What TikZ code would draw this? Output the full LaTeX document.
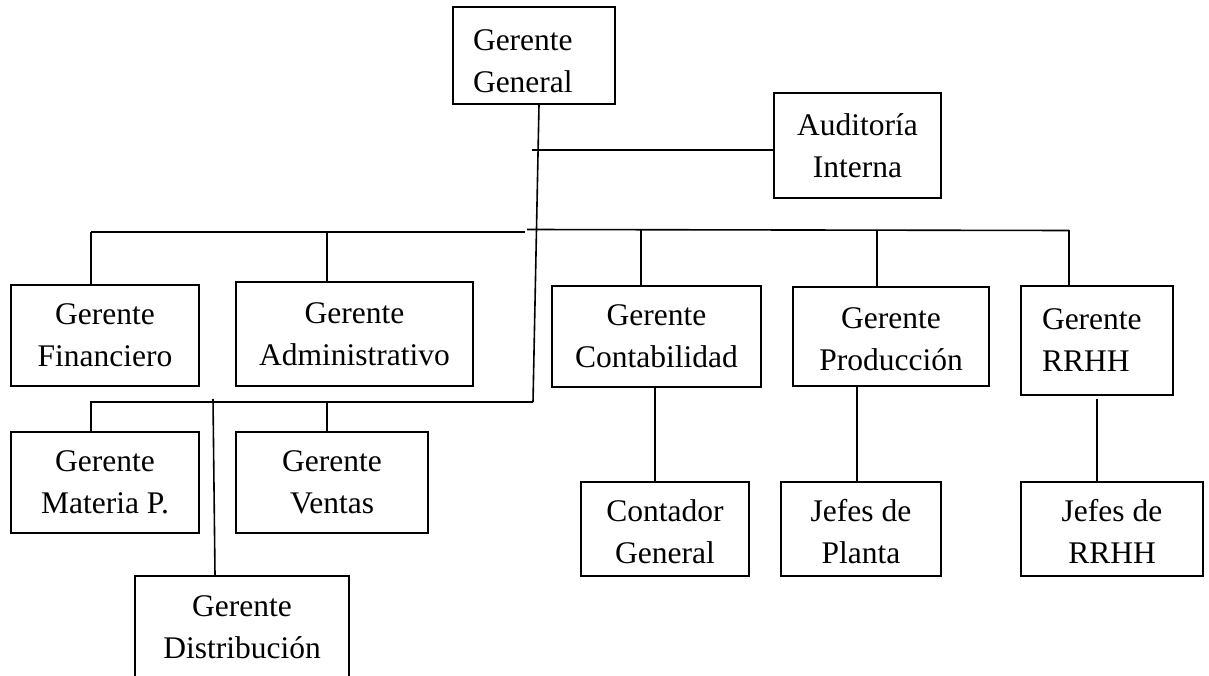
\documentclass[tikz,border=0pt]{standalone}
\usepackage{fontspec}
\setmainfont{Liberation Serif}
% invisible strut that lowers a box's text a little
\newcommand\lowerby[1]{\rule{0pt}{#1}}
\begin{document}
\begin{tikzpicture}[x=1pt,y=-1pt,
  box/.style={draw, line width=1.6pt, inner sep=0pt, align=center,
    font=\fontsize{31.5}{42}\selectfont},
  link/.style={line width=1.6pt}]
\useasboundingbox (0,0) rectangle (1209,676);
\clip (0,0) rectangle (1209,676);

% top of the chart
\node[box, minimum width=162pt, minimum height=97pt, text width=122pt,
  align=left, inner xsep=20pt] (gg) at (534,55.5) {\lowerby{33pt}Gerente\\General};
\node[box, minimum width=167pt, minimum height=105pt] (aud) at (857.5,145.5) {Auditoría\\Interna};

% first row of managers
\node[box, minimum width=188pt, minimum height=101pt] (fin) at (105,335.5) {Gerente\\Financiero};
\node[box, minimum width=237pt, minimum height=104pt] (adm) at (354.5,334) {Gerente\\Administrativo};
\node[box, minimum width=209pt, minimum height=101pt] (con) at (656.5,336.5) {Gerente\\Contabilidad};
\node[box, minimum width=196pt, minimum height=99pt] (pro) at (891,336.5) {\lowerby{26pt}Gerente\\Producción};
\node[box, minimum width=152pt, minimum height=109pt, text width=110pt,
  align=left, inner xsep=21pt] (rrhh) at (1097,340.5) {Gerente\\RRHH};

% second row
\node[box, minimum width=188pt, minimum height=101pt] (mat) at (105,482.5) {Gerente\\Materia P.};
\node[box, minimum width=192pt, minimum height=101pt] (ven) at (332,482.5) {Gerente\\Ventas};
\node[box, minimum width=168pt, minimum height=94pt] (ctr) at (665,529) {\lowerby{27pt}Contador\\General};
\node[box, minimum width=160pt, minimum height=94pt] (jpl) at (861,529) {\lowerby{27pt}Jefes de\\Planta};
\node[box, minimum width=182pt, minimum height=94pt] (jrh) at (1112,529) {\lowerby{26pt}Jefes de\\RRHH};
\node[box, minimum width=214pt, minimum height=102pt] (dis) at (242,627) {Gerente\\Distribución};

% junction points of the lines
\coordinate (trunk) at (533,402);
\coordinate (audj) at (532,150);
\coordinate (busl) at (91,232);
\coordinate (busm) at (525,232);
\coordinate (busn) at (527,229.5);
\coordinate (busr) at (1069,230.5);
\coordinate (lowl) at (91,402);
\coordinate (admj) at (327,232);
\coordinate (conj) at (641,230);
\coordinate (proj) at (877,230);
\coordinate (venj) at (327,402);
\coordinate (disj) at (213,399);
\coordinate (ctrj) at (655,387);
\coordinate (jplj) at (857,386);
\coordinate (jrhj) at (1097,399);

% main trunk and staff link
\draw[link] ([xshift=5pt]gg.south) -- (trunk);
\draw[link] (audj) -- (audj -| aud.west);

% upper bus and its drops
\draw[link] (busl) -- (busm);
\draw[link] (busn) -- (busr);
\draw[link] (busl) -- (busl |- fin.north);
\draw[link] (admj) -- (admj |- adm.north);
\draw[link] (conj) -- (conj |- con.north);
\draw[link] (proj) -- (proj |- pro.north);
\draw[link] (busr) -- (busr |- rrhh.north);

% lower bus and its drops
\draw[link] (trunk) -- (lowl) -- (lowl |- mat.north);
\draw[link] (venj) -- (venj |- ven.north);
\draw[link] (disj) -- ([xshift=-27pt]dis.north);

% single subordinates
\draw[link] (ctrj) -- (ctrj |- ctr.north);
\draw[link] (jplj) -- (jplj |- jpl.north);
\draw[link] (jrhj) -- (jrhj |- jrh.north);
\end{tikzpicture}
\end{document}
